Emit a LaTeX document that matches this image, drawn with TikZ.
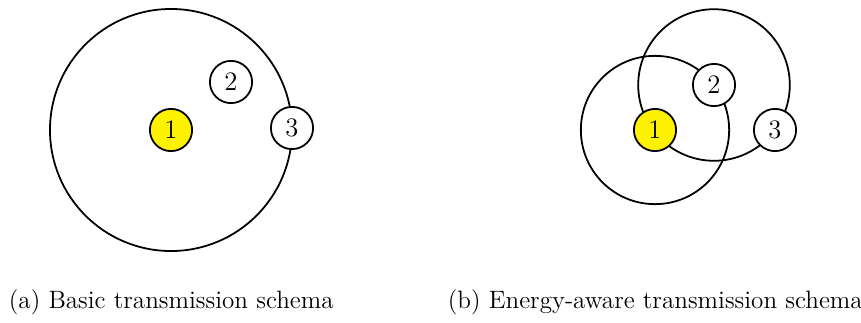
\documentclass[tikz,border=0pt]{standalone}
\usepackage{amsmath}
\usepackage{xcolor}
\usepackage{tikz}
\usetikzlibrary{calc}

\begin{document}
\begin{tikzpicture}[x=0.45pt, y=0.45pt, thick,
    station/.style={circle, draw, fill=white, minimum size=19pt, inner sep=0pt, font=\large},
    caption/.style={anchor=base west, inner sep=0pt, font=\fontsize{11.3}{13.5}\selectfont}]
  \useasboundingbox (0,0) rectangle (861,322);

  % (a) basic schema
  \coordinate (a1c) at (171,192);
  \coordinate (a3c) at (292,194);
  \draw let \p1 = ($(a3c)-(a1c)$) in (a1c) circle ({veclen(\x1,\y1)});
  \node[station, fill=yellow] (a1) at (a1c) {1};
  \node[station] (a2) at (231,240) {2};
  \node[station] (a3) at (a3c) {3};

  % (b) energy-aware schema
  \coordinate (b1c) at (655,192);
  \coordinate (b2c) at (714,237);
  \coordinate (b3c) at (775,192);
  \draw let \p1 = ($(b2c)-(b1c)$) in (b1c) circle ({veclen(\x1,\y1)});
  \draw let \p1 = ($(b3c)-(b2c)$) in (b2c) circle ({veclen(\x1,\y1)});
  \node[station, fill=yellow] (b1) at (b1c) {1};
  \node[station] (b2) at (b2c) {2};
  \node[station] (b3) at (b3c) {3};

  \node[caption] (capa) at (8,14) {(a) Basic transmission schema};
  \node[caption] (capb) at (447,14) {(b) Energy-aware transmission schema};
\end{tikzpicture}
\end{document}
